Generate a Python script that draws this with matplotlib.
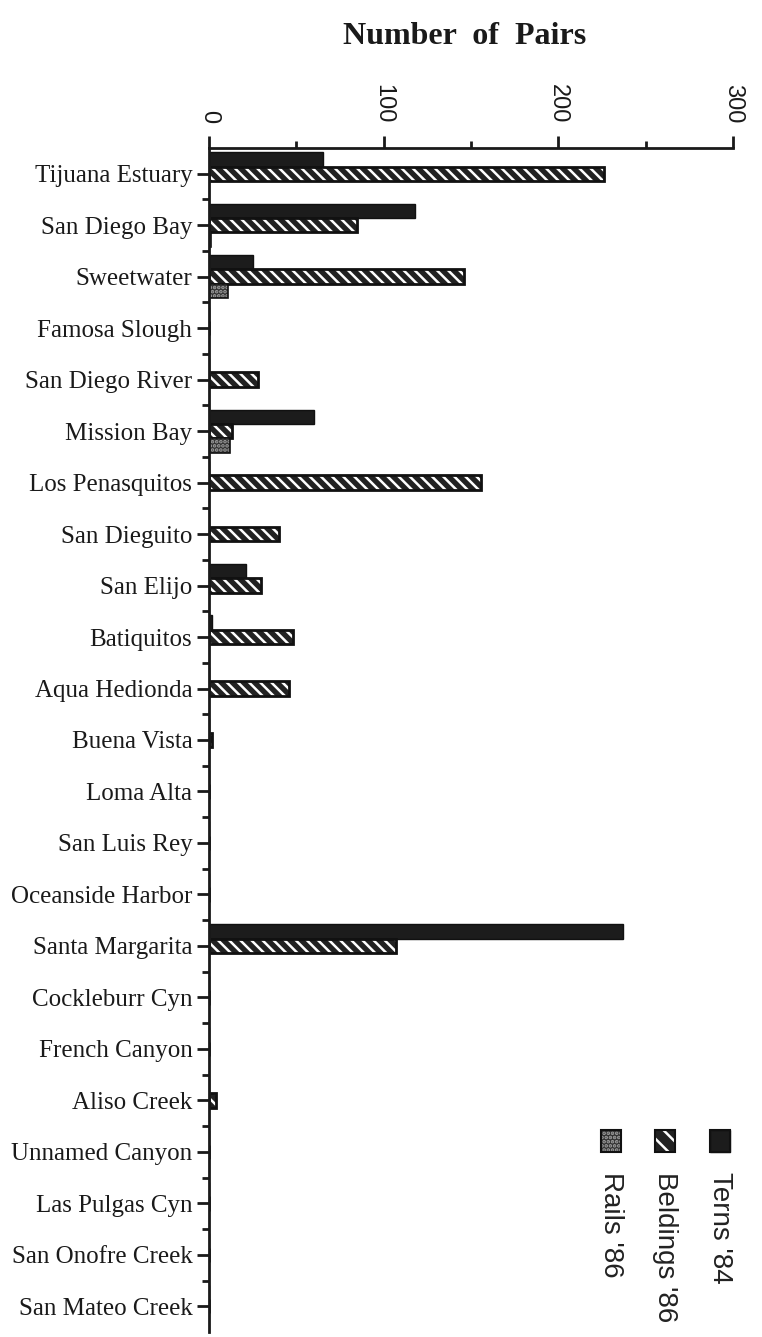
import matplotlib
matplotlib.use("Agg")
import matplotlib.pyplot as plt
from matplotlib.patches import Rectangle
import numpy as np

sites = ["Tijuana Estuary", "San Diego Bay", "Sweetwater", "Famosa Slough",
         "San Diego River", "Mission Bay", "Los Penasquitos", "San Dieguito",
         "San Elijo", "Batiquitos", "Aqua Hedionda", "Buena Vista", "Loma Alta",
         "San Luis Rey", "Oceanside Harbor", "Santa Margarita", "Cockleburr Cyn",
         "French Canyon", "Aliso Creek", "Unnamed Canyon", "Las Pulgas Cyn",
         "San Onofre Creek", "San Mateo Creek"]
terns84 = [65, 118, 25, 0, 0, 60, 0, 0, 21, 2, 0, 0, 0, 0, 0, 237, 0, 0, 0, 0, 0, 0, 0]
beldings86 = [226, 85, 146, 0, 28, 13, 156, 40, 30, 48, 46, 2, 0, 0, 0, 107, 0, 0, 4, 0, 0, 0, 0]
rails86 = [0, 1, 11, 0, 0, 12, 0, 0, 0, 0, 0, 0, 0, 0, 0, 0, 0, 0, 0, 0, 0, 0, 0]
xticks = [0, 100, 200, 300]
series_names = ["Terns '84", "Beldings '86", "Rails '86"]

plt.rcParams['hatch.linewidth'] = 1.8

W, H = 762, 1337
fig = plt.figure(figsize=(W / 100, H / 100), dpi=100)
ax = fig.add_axes([209 / W, 1 - 1332 / H, (733 - 209) / W, (1332 - 148) / H])

n = len(sites)
y = np.arange(n)
bh = 0.28

# Terns: solid
ax.barh(y - bh, terns84, height=bh, color="#1c1c1c", edgecolor="#111111", linewidth=1)
# Beldings: hatched white on black
ax.barh(y, beldings86, height=bh, color="#222222", edgecolor="white", linewidth=0, hatch="\\\\\\")
ax.barh(y, beldings86, height=bh, fill=False, edgecolor="#111111", linewidth=2)
# Rails: stippled
ax.barh(y + bh, rails86, height=bh, color="#333333", edgecolor="#a0a0a0", linewidth=0, hatch="....")
ax.barh(y + bh, rails86, height=bh, fill=False, edgecolor="#111111", linewidth=1.2)

ax.set_xlim(0, 300)
ax.set_ylim(n - 0.5, -0.5)

ax.xaxis.tick_top()
ax.set_xticks(xticks)
ax.set_xticks([50, 150, 250], minor=True)
ax.set_xticklabels([str(v) for v in xticks], rotation=-90, fontsize=17,
                   family=["Liberation Sans", "DejaVu Sans"], color="#222222")
ax.tick_params(axis="x", which="major", direction="out", length=9, width=2, pad=9, colors="#1a1a1a")
ax.tick_params(axis="x", which="minor", direction="out", length=5, width=2, colors="#1a1a1a")

ax.set_yticks(y)
ax.set_yticklabels(sites, fontsize=18, family=["Liberation Serif", "DejaVu Serif"], color="#1a1a1a")
ax.set_yticks(np.arange(n - 1) + 0.5, minor=True)
ax.tick_params(axis="y", which="major", direction="out", length=9, width=2, pad=3, colors="#1a1a1a")
ax.tick_params(axis="y", which="minor", direction="out", length=5, width=2, colors="#1a1a1a")

for s in ["right", "bottom"]:
    ax.spines[s].set_visible(False)
ax.spines["left"].set_linewidth(2)
ax.spines["top"].set_linewidth(2)
ax.spines["left"].set_color("#1a1a1a")
ax.spines["top"].set_color("#1a1a1a")

fig.text(465 / W, 1 - 36 / H, "Number  of  Pairs", ha="center", va="center",
         fontsize=23, fontweight="bold", family=["Liberation Serif", "DejaVu Serif"], color="#1a1a1a")

# Legend (rotated)
leg_x = [720, 665, 611]
styles = [dict(facecolor="#1c1c1c", edgecolor="#111111", linewidth=1),
          dict(facecolor="#222222", edgecolor="white", linewidth=0, hatch="\\\\"),
          dict(facecolor="#333333", edgecolor="#a0a0a0", linewidth=0, hatch="....")]
for xc, name, st in zip(leg_x, series_names, styles):
    r = Rectangle(((xc - 10) / W, 1 - 1152 / H), 20 / W, 22 / H, transform=fig.transFigure, **st)
    fig.patches.append(r)
    fig.patches.append(Rectangle(((xc - 10) / W, 1 - 1152 / H), 20 / W, 22 / H,
                                 transform=fig.transFigure, fill=False, edgecolor="#111111", linewidth=1.5))
    fig.text(xc / W, 1 - 1172 / H, name, rotation=270, ha="center", va="top",
             fontsize=20, family=["Liberation Sans", "DejaVu Sans"], color="#222222")

fig.savefig("out.png", dpi=100, facecolor="white")
